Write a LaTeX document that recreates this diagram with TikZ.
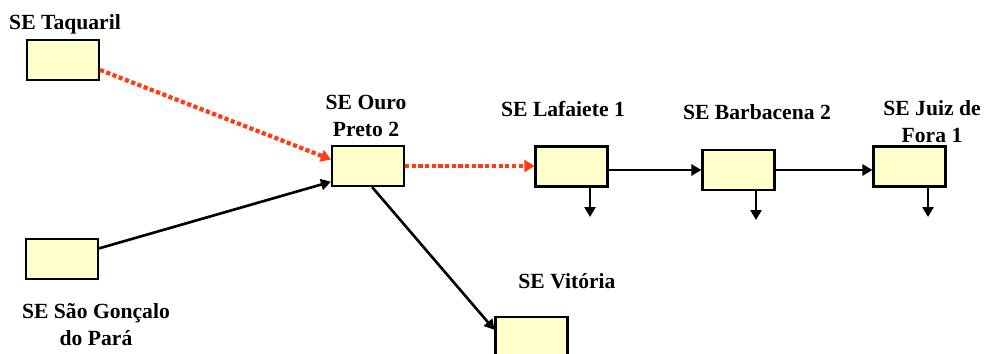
\documentclass[tikz,border=0pt]{standalone}
\usepackage{fontspec}
\setmainfont{Liberation Serif}
\usetikzlibrary{arrows.meta,positioning}

\definecolor{boxyellow}{RGB}{255,255,204}
\definecolor{feedred}{RGB}{255,60,20}

\tikzset{
  sebox/.style={draw, line width=1.2pt, fill=boxyellow, minimum width=1.44cm, minimum height=0.8cm, inner sep=0pt},
  selabel/.style={font=\bfseries\fontsize{12.3}{15.4}\selectfont, align=center, inner sep=0pt},
  feed/.style={line width=1.5pt, -{Triangle[length=2mm,width=2.2mm]}},
  redfeed/.style={draw=feedred, line width=2.4pt, dash pattern=on 2.4pt off 1.4pt, -{Triangle[length=2mm,width=2.4mm,fill=feedred]}}
}

\begin{document}
\begin{tikzpicture}[x=0.02cm,y=-0.02cm]
\useasboundingbox (0,0) rectangle (984,353);

% Substations
\node[sebox] (taq)  at (63,60) {};
\node[sebox] (sg)   at (62,259) {};
\node[sebox] (ouro) at (368,166) {};
\node[sebox] (laf)  at (571.5,166.5) {};
\node[sebox] (barb) at (738.5,170) {};
\node[sebox] (juiz) at (909.5,166.5) {};
\node[sebox] (vit)  at (531.5,337) {};

% Names
\node[selabel] (taqlabel)  at (65,24) {SE Taquaril};
\node[selabel] (sglabel)   at (96,325) {SE São Gonçalo\\do Pará};
\node[selabel] (ourolabel) at (366,116) {SE Ouro\\Preto 2};
\node[selabel] (laflabel)  at (563,109) {SE Lafaiete 1};
\node[selabel] (barblabel) at (757,112) {SE Barbacena 2};
\node[selabel] (juizlabel) at (932,122) {SE Juiz de\\Fora 1};
\node[selabel] (vitlabel)  at (567,281) {SE Vitória};

% Lines
\draw[redfeed] (taq.-15) -- (ouro.170);
\draw[feed] (sg.16) -- (ouro.203);
\draw[feed] (ouro.-79) -- (vit.169);
\draw[redfeed] (ouro.east) -- (ouro.east -| laf.west);
\draw[feed] (laf.east |- barb.west) -- (barb.west);
\draw[feed] (barb.east) -- (barb.east -| juiz.west);

% Loads
\coordinate (lafload)  at (590,217);
\coordinate (barbload) at (756,220);
\coordinate (juizload) at (928,217);
\foreach \s/\l in {laf/lafload,barb/barbload,juiz/juizload}
{
\draw[feed] (\l |- \s.south) -- (\l);
}

\end{tikzpicture}
\end{document}
